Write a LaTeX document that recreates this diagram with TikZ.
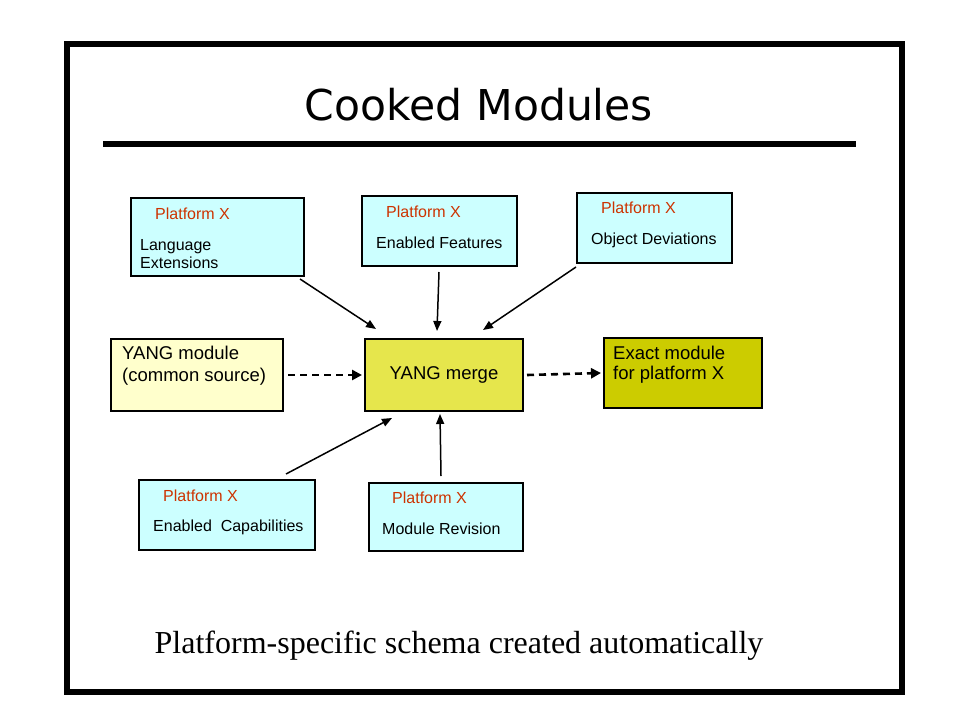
\documentclass[tikz,border=0pt]{standalone}
\usepackage{fontspec}
\setmainfont{Liberation Sans}
\newfontfamily\titlefont{DejaVu Sans}
\newfontfamily\serifnote{Liberation Serif}
\usetikzlibrary{arrows.meta,calc}
\definecolor{cyanbox}{HTML}{CCFFFF}
\definecolor{srcbox}{HTML}{FFFFCC}
\definecolor{mergebox}{HTML}{E6E64C}
\definecolor{exactbox}{HTML}{CCCC00}
\definecolor{pxred}{HTML}{CC3300}
\tikzset{
  box/.style={draw=black, line width=2pt, anchor=north west, inner sep=0pt},
  pbox/.style={box, fill=cyanbox},
  pxlabel/.style={anchor=west, inner sep=0pt, text=pxred, font=\fontsize{16}{18}\selectfont},
  bodylabel/.style={anchor=west, inner sep=0pt, align=left, font=\fontsize{16}{18}\selectfont},
  biglabel/.style={anchor=west, inner sep=0pt, align=left},
  arr/.style={line width=1.5pt, -{Triangle[length=10pt,width=8pt]}},
  darr/.style={line width=2.6pt, dash pattern=on 7pt off 5pt, -{Triangle[length=10pt,width=10pt]}}
}
\begin{document}
\begin{tikzpicture}[x=1pt,y=-1pt]
\useasboundingbox (0,0) rectangle (960,720);
\fill[white] (0,0) rectangle (960,720);
% frame and rule
\draw[line width=6pt] (67,44) rectangle (902,692);
\draw[line width=6pt] (103,144) -- (856,144);
% title
\node (title) at (479,105) {\titlefont\fontsize{42.5}{46}\selectfont Cooked Modules};
% boxes
\node (le) [pbox, minimum width=173pt, minimum height=78pt] at (130,197) {};
\node (ef) [pbox, minimum width=155pt, minimum height=70pt] at (361,195) {};
\node (od) [pbox, minimum width=155pt, minimum height=70pt] at (576,192) {};
\node (ym) [box, fill=srcbox, minimum width=172pt, minimum height=72pt] at (110,338) {};
\node (mg) [box, fill=mergebox, minimum width=158pt, minimum height=72pt, font=\fontsize{18.5}{22}\selectfont] at (364,338) {YANG merge};
\node (ex) [box, fill=exactbox, minimum width=158pt, minimum height=70pt] at (603,337) {};
\node (ec) [pbox, minimum width=176pt, minimum height=70pt] at (138,479) {};
\node (mr) [pbox, minimum width=154pt, minimum height=68pt] at (368,482) {};
% texts
\node (lep) [pxlabel] at (155,214) {Platform X};
\node (let) [bodylabel] at (140,254) {Language\\Extensions};
\node (efp) [pxlabel] at (386,212) {Platform X};
\node (eft) [bodylabel] at (376,243) {Enabled Features};
\node (odp) [pxlabel] at (601,208) {Platform X};
\node (odt) [bodylabel] at (591,240) {Object Deviations};
\node (ymt) [biglabel, font=\fontsize{18.5}{22}\selectfont] at (122,366) {YANG module\\(common source)};
\node (ext) [biglabel, font=\fontsize{18.5}{20}\selectfont] at (613,365) {Exact module\\for platform X};
\node (ecp) [pxlabel] at (163,496) {Platform X};
\node (ect) [bodylabel] at (153,527) {Enabled\ \ Capabilities};
\node (mrp) [pxlabel] at (392,498) {Platform X};
\node (mrt) [bodylabel] at (382,529) {Module Revision};
% bottom note
\node (note) at (459,646) {\serifnote\fontsize{32}{36}\selectfont Platform-specific schema created automatically};
% arrow tips (free ends)
\coordinate (t1) at (376,329);
\coordinate (t2) at (437,331);
\coordinate (t3) at (483,330);
\coordinate (t6) at (392,418);
\coordinate (t7) at (440,414);
% connectors
\draw[arr] ($(le.south east)+(-5,2)$) -- (t1);
\draw[arr] ($(ef.south)+(-0.5,5)$) -- (t2);
\draw[arr] ($(od.south west)+(0,3)$) -- (t3);
\draw[darr] ($(ym.east)+(4,0)$) -- ($(mg.west)+(-2,0)$);
\draw[darr] ($(mg.east)+(3,0)$) -- ($(ex.west)+(-2,0)$);
\draw[arr] ($(ec.north west)+(148,-5)$) -- (t6);
\draw[arr] ($(mr.north)+(-5,-6)$) -- (t7);
\end{tikzpicture}
\end{document}
